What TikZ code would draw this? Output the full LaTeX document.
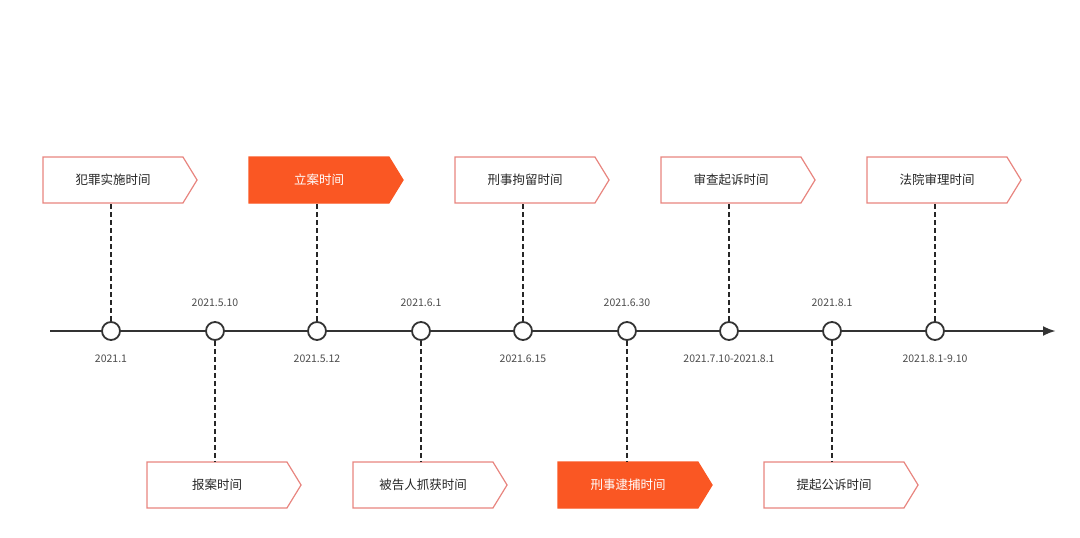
\documentclass[tikz,border=0pt]{standalone}
\usepackage{fontspec}
\setmainfont{Noto Sans CJK SC}
\usetikzlibrary{shapes.symbols,arrows.meta}
\definecolor{org}{HTML}{FA5723}
\definecolor{pnk}{HTML}{E8857F}
\begin{document}
\begin{tikzpicture}[x=1pt,y=-1pt,
  ev/.style={signal,signal to=east,signal pointer angle=117,minimum width=154pt,minimum height=46pt,inner sep=0pt,font=\fontsize{12.5}{14}\selectfont,text=black!85,line width=1.2pt},
  evw/.style={ev,draw=pnk,fill=white},
  evo/.style={ev,draw=org,fill=org,text=white},
  dot/.style={circle,draw=black!80,fill=white,line width=1.8pt,minimum size=18pt,inner sep=0pt},
  dt/.style={font=\fontsize{10.5}{12}\selectfont,text=black!70},
  gl/.style={dashed,dash pattern=on 5pt off 3pt,line width=1.5pt,black!85}]
\useasboundingbox (0,0) rectangle (1080,538);
\draw[line width=2.8pt,black!80,-{Latex[length=13pt,width=10pt]}] (50,331) -- (1056,331);
\foreach \n/\x in {1/111,2/215,3/317,4/421,5/523,6/627,7/729,8/832,9/935}{
  \node[dot] (c\n) at (\x,331) {};}
\node[evw] (b1) at (113,180) {犯罪实施时间};
\node[evo] (b3) at (319,180) {立案时间};
\node[evw] (b5) at (525,180) {刑事拘留时间};
\node[evw] (b7) at (731,180) {审查起诉时间};
\node[evw] (b9) at (937,180) {法院审理时间};
\node[evw] (b2) at (217,485) {报案时间};
\node[evw] (b4) at (423,485) {被告人抓获时间};
\node[evo] (b6) at (628,485) {刑事逮捕时间};
\node[evw] (b8) at (834,485) {提起公诉时间};
\foreach \n in {1,3,5,7,9}{\draw[gl] (c\n.north) -- (c\n.north |- b\n.south);}
\foreach \n in {2,4,6,8}{\draw[gl] (c\n.south) -- (c\n.south |- b\n.north);}
\node[dt] (d1) at (111,359) {2021.1};
\node[dt] (d2) at (215,303) {2021.5.10};
\node[dt] (d3) at (317,359) {2021.5.12};
\node[dt] (d4) at (421,303) {2021.6.1};
\node[dt] (d5) at (523,359) {2021.6.15};
\node[dt] (d6) at (627,303) {2021.6.30};
\node[dt] (d7) at (729,359) {2021.7.10-2021.8.1};
\node[dt] (d8) at (832,303) {2021.8.1};
\node[dt] (d9) at (935,359) {2021.8.1-9.10};
\end{tikzpicture}
\end{document}
